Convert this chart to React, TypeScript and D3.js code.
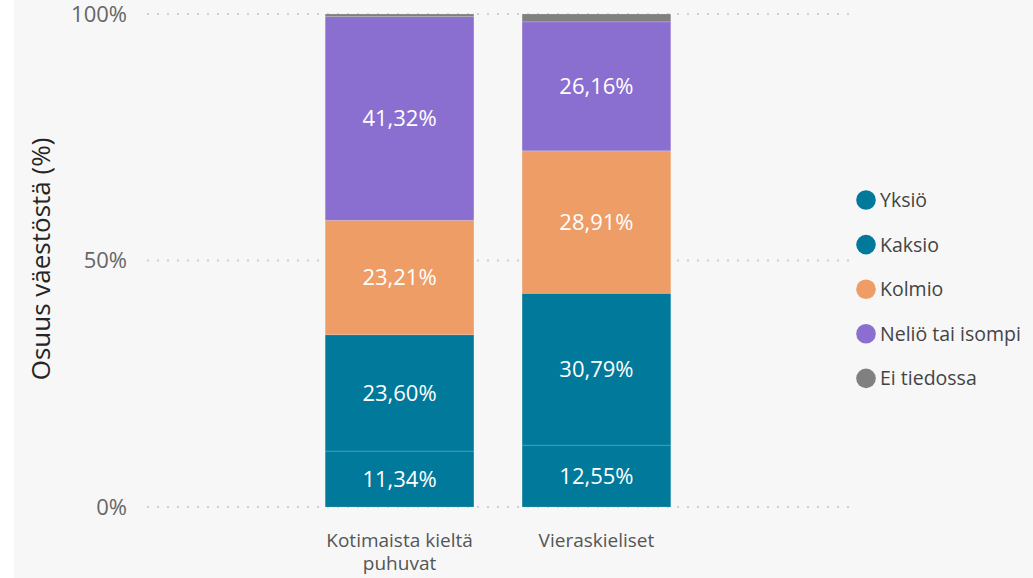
import React, { useEffect, useRef } from "react";
import * as d3 from "d3";

// categories (x axis), two lines for the first one
const categories = ["Kotimaista kieltä puhuvat", "Vieraskieliset"];
const categoryLines = [["Kotimaista kieltä", "puhuvat"], ["Vieraskieliset"]];

// series, bottom to top
const seriesNames = ["Yksiö", "Kaksio", "Kolmio", "Neliö tai isompi", "Ei tiedossa"];
const seriesColors = ["#00799a", "#00799a", "#ee9d66", "#8b6fd0", "#808080"];

// values per category, in % (same order as seriesNames)
const yksio = [11.34, 12.55];
const kaksio = [23.6, 30.79];
const kolmio = [23.21, 28.91];
const nelio = [41.32, 26.16];
const eiTiedossa = [0.53, 1.59];

const yTicks = [0, 50, 100];
const yTickLabels = ["0%", "50%", "100%"];

const FONT = "'Open Sans', 'Liberation Sans', sans-serif";

function App() {
  const svgRef = useRef<SVGSVGElement>(null);

  useEffect(() => {
    const svg = d3.select(svgRef.current);
    svg.selectAll("*").remove();
    const svgWidth = 1033;
    const svgHeight = 578;

    // background (white strip on the left, light grey panel)
    svg.append("rect").attr("width", svgWidth).attr("height", svgHeight).attr("fill", "#ffffff");
    svg.append("rect").attr("x", 14).attr("width", svgWidth - 14).attr("height", svgHeight).attr("fill", "#f7f7f7");

    const y = d3.scaleLinear().domain([0, 100]).range([507, 14]);
    const x = d3
      .scaleBand()
      .domain(categories)
      .range([147, 849])
      .paddingInner(0.245)
      .paddingOuter(0.905);

    // gridlines
    svg
      .append("g")
      .selectAll("line")
      .data(yTicks)
      .enter()
      .append("line")
      .attr("x1", 147)
      .attr("x2", 850)
      .attr("y1", (d) => y(d))
      .attr("y2", (d) => y(d))
      .attr("stroke", "#cfcfcf")
      .attr("stroke-width", 2)
      .attr("stroke-dasharray", "2 8");

    // tick labels
    svg
      .append("g")
      .selectAll("text")
      .data(yTicks)
      .enter()
      .append("text")
      .attr("x", 127)
      .attr("y", (d) => y(d))
      .attr("dy", "0.36em")
      .attr("text-anchor", "end")
      .style("font-family", FONT)
      .style("font-size", "22px")
      .attr("fill", "#666666")
      .text((d, i) => yTickLabels[i]);

    // axis title
    svg
      .append("text")
      .attr("transform", "translate(50,259) rotate(-90)")
      .attr("text-anchor", "middle")
      .style("font-family", FONT)
      .style("font-size", "26px")
      .attr("fill", "#252525")
      .text("Osuus väestöstä (%)");

    // stack the series
    const rows = categories.map((c, i) => ({
      category: c,
      [seriesNames[0]]: yksio[i],
      [seriesNames[1]]: kaksio[i],
      [seriesNames[2]]: kolmio[i],
      [seriesNames[3]]: nelio[i],
      [seriesNames[4]]: eiTiedossa[i],
    }));
    const stacked = d3.stack<any>().keys(seriesNames)(rows);

    const layers = svg
      .append("g")
      .selectAll("g")
      .data(stacked)
      .enter()
      .append("g")
      .attr("fill", (d, i) => seriesColors[i]);

    layers
      .selectAll("rect")
      .data((d) => d)
      .enter()
      .append("rect")
      .attr("x", (d: any) => x(d.data.category) as number)
      .attr("width", x.bandwidth())
      .attr("y", (d) => y(d[1]))
      .attr("height", (d) => y(d[0]) - y(d[1]))
      .attr("stroke", "rgba(255,255,255,0.15)")
      .attr("stroke-width", 1);

    // data labels (skip the tiny "Ei tiedossa" segment)
    stacked.slice(0, 4).forEach((layer) => {
      svg
        .append("g")
        .selectAll("text")
        .data(layer)
        .enter()
        .append("text")
        .attr("x", (d: any) => (x(d.data.category) as number) + x.bandwidth() / 2)
        .attr("y", (d) => (y(d[0]) + y(d[1])) / 2)
        .attr("dy", "0.36em")
        .attr("text-anchor", "middle")
        .style("font-family", FONT)
        .style("font-size", "22px")
        .attr("fill", "#ffffff")
        .text((d) => (d[1] - d[0]).toFixed(2).replace(".", ",") + "%");
    });

    // category labels, one text per line
    categories.forEach((c, i) => {
      categoryLines[i].forEach((line, j) => {
        svg
          .append("text")
          .attr("x", (x(c) as number) + x.bandwidth() / 2)
          .attr("y", 547 + j * 23)
          .attr("text-anchor", "middle")
          .style("font-family", FONT)
          .style("font-size", "19px")
          .attr("fill", "#555555")
          .text(line);
      });
    });

    // legend
    const legend = svg
      .append("g")
      .selectAll("g")
      .data(seriesNames)
      .enter()
      .append("g")
      .attr("transform", (d, i) => `translate(866,${200 + i * 44.6})`);
    legend
      .append("circle")
      .attr("r", 9.8)
      .attr("fill", (d, i) => seriesColors[i]);
    legend
      .append("text")
      .attr("x", 14)
      .attr("dy", "0.36em")
      .style("font-family", FONT)
      .style("font-size", "19.5px")
      .attr("fill", "#444444")
      .text((d) => d);
  }, []);

  return (
    <div style={{ position: "absolute", left: 0, top: 0 }}>
      <svg ref={svgRef} width={1033} height={578} style={{ display: "block" }}></svg>
    </div>
  );
}

export default App;
